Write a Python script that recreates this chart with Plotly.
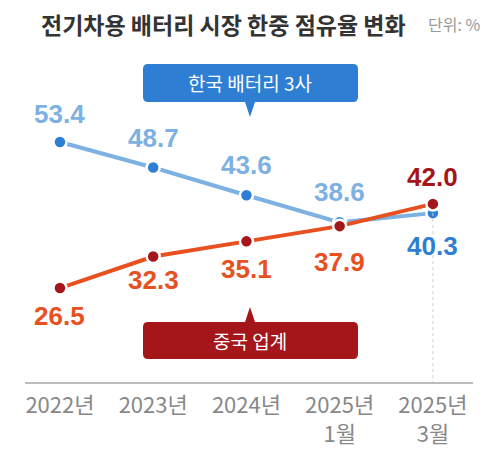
import plotly.graph_objects as go

CATEGORIES = ["2022년", "2023년", "2024년", "2025년<br>1월", "2025년<br>3월"]
KOREA = [53.4, 48.7, 43.6, 38.6, 40.3]
CHINA = [26.5, 32.3, 35.1, 37.9, 42.0]
KOREA_LABEL_SHIFT = [28, 30, 30, 30, -33]
CHINA_LABEL_SHIFT = [-28, -23, -28, -36, 27]

TITLE = "전기차용 배터리 시장 한중 점유율 변화"
UNIT = "단위: %"
KOREA_NAME = "한국 배터리 3사"
CHINA_NAME = "중국 업계"

# the page body adds an 8px margin, so layout numbers are shifted by it
OFF = 8
W, H = 500, 460
ML, MR, MT, MB = 25 - OFF, 27 + OFF, 60 - OFF, 78 + OFF
Y_RANGE = [9.2, 68.5]

BLUE = "#2e7fd3"
BLUE_LIGHT = "#7db1e1"
RED = "#a5161a"
ORANGE = "#e8501f"
KFONT = "Noto Sans CJK KR"
NFONT = "Liberation Sans"


def px(x):
    return (x - OFF - ML) / (W - ML - MR)


def py(y):
    return (H - MB - (y - OFF)) / (H - MT - MB)


def callout(x0, x1, y0, y1, tip_x, tip_y, r=5, hw=5):
    # rounded box with a small pointer, drawn in pixel space then mapped to paper
    up = tip_y < y0
    pts = [f"M{px(x0 + r)},{py(y0)}"]
    if up:
        pts += [f"L{px(tip_x - hw)},{py(y0)}", f"L{px(tip_x)},{py(tip_y)}", f"L{px(tip_x + hw)},{py(y0)}"]
    pts += [f"L{px(x1 - r)},{py(y0)}", f"Q{px(x1)},{py(y0)} {px(x1)},{py(y0 + r)}",
            f"L{px(x1)},{py(y1 - r)}", f"Q{px(x1)},{py(y1)} {px(x1 - r)},{py(y1)}"]
    if not up:
        pts += [f"L{px(tip_x + hw)},{py(y1)}", f"L{px(tip_x)},{py(tip_y)}", f"L{px(tip_x - hw)},{py(y1)}"]
    pts += [f"L{px(x0 + r)},{py(y1)}", f"Q{px(x0)},{py(y1)} {px(x0)},{py(y1 - r)}",
            f"L{px(x0)},{py(y0 + r)}", f"Q{px(x0)},{py(y0)} {px(x0 + r)},{py(y0)}", "Z"]
    return " ".join(pts)


fig = go.Figure()

fig.add_trace(go.Scatter(
    x=CATEGORIES, y=KOREA, mode="lines+markers",
    line={"color": BLUE_LIGHT, "width": 4},
    marker={"color": BLUE, "size": 13, "line": {"color": "white", "width": 2.5}},
))
fig.add_trace(go.Scatter(
    x=[CATEGORIES[-1], CATEGORIES[-1]], y=[KOREA[-1], Y_RANGE[0]],
    mode="lines", line={"color": "#cfcfcf", "width": 1, "dash": "dot"}, hoverinfo="skip",
))
fig.add_trace(go.Scatter(
    x=CATEGORIES, y=CHINA, mode="lines+markers",
    line={"color": ORANGE, "width": 4},
    marker={"color": RED, "size": 13, "line": {"color": "white", "width": 2.5}},
))

annotations = []
for i, (cat, val, shift) in enumerate(zip(CATEGORIES, KOREA, KOREA_LABEL_SHIFT)):
    color = BLUE if i == len(KOREA) - 1 else BLUE_LIGHT
    annotations.append(dict(x=cat, y=val, yshift=shift, text=f"<b>{val:.1f}</b>", showarrow=False,
                            font={"family": NFONT, "size": 26, "color": color}))
for i, (cat, val, shift) in enumerate(zip(CATEGORIES, CHINA, CHINA_LABEL_SHIFT)):
    color = RED if i == len(CHINA) - 1 else ORANGE
    annotations.append(dict(x=cat, y=val, yshift=shift, text=f"<b>{val:.1f}</b>", showarrow=False,
                            font={"family": NFONT, "size": 26, "color": color}))

annotations += [
    dict(xref="paper", yref="paper", x=px(40), y=py(24), xanchor="left", yanchor="middle", borderpad=0,
         text=f"<b>{TITLE}</b>", showarrow=False, font={"family": KFONT, "size": 23, "color": "#333333"}),
    dict(xref="paper", yref="paper", x=px(426), y=py(24), xanchor="left", yanchor="middle",
         text=UNIT, showarrow=False, font={"family": KFONT, "size": 16, "color": "#999999"}),
    dict(xref="paper", yref="paper", x=px(250), y=py(83), xanchor="center", yanchor="middle",
         text=KOREA_NAME, showarrow=False, font={"family": KFONT, "size": 19, "color": "white"}),
    dict(xref="paper", yref="paper", x=px(250), y=py(340), xanchor="center", yanchor="middle",
         text=CHINA_NAME, showarrow=False, font={"family": KFONT, "size": 19, "color": "white"}),
]

shapes = [
    dict(type="path", xref="paper", yref="paper", path=callout(143, 358, 64, 102, 250, 117),
         fillcolor=BLUE, line={"width": 0}, layer="below"),
    dict(type="path", xref="paper", yref="paper", path=callout(143, 358, 322, 359, 250, 307),
         fillcolor=RED, line={"width": 0}, layer="below"),
]

fig.update_layout(
    width=W, height=H,
    margin={"l": ML, "r": MR, "t": MT, "b": MB, "autoexpand": False},
    paper_bgcolor="white", plot_bgcolor="white",
    showlegend=False,
    annotations=annotations,
    shapes=shapes,
)
fig.update_xaxes(
    type="category", categoryorder="array", categoryarray=CATEGORIES, range=[-0.375, 4.43],
    showgrid=False, zeroline=False,
    showline=True, linecolor="#bdbdbd", linewidth=1.5,
    ticks="outside", ticklen=3, tickcolor="rgba(0,0,0,0)",
    tickfont={"family": KFONT, "size": 22, "color": "#888888"},
)
fig.update_yaxes(range=Y_RANGE, visible=False, showgrid=False, zeroline=False)

fig.write_html("out.html")
